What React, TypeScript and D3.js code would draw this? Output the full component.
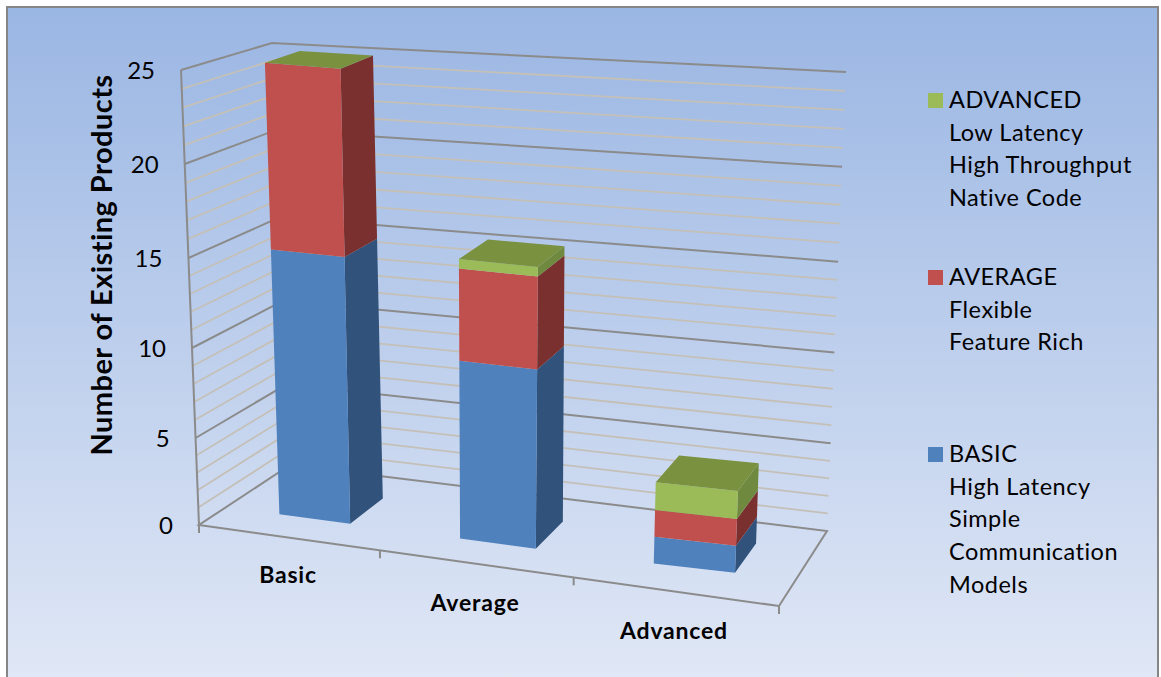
import React from 'react';
import * as d3 from 'd3';

const categories = ['Basic', 'Average', 'Advanced'];
const basicValues = [15.1, 10, 1.5];
const averageValues = [10.1, 5.1, 1.5];
const advancedValues = [0, 0.5, 1.55];
const valueTicks = [0, 5, 10, 15, 20, 25];
const minorTicks = d3.range(0, 26);

const legendBlocks = [
  { lines: ['ADVANCED', 'Low Latency', 'High Throughput', 'Native Code'], color: '#9BBB59', baseline: 108 },
  { lines: ['AVERAGE', 'Flexible', 'Feature Rich'], color: '#C0504D', baseline: 285 },
  { lines: ['BASIC', 'High Latency', 'Simple', 'Communication', 'Models'], color: '#4F81BD', baseline: 462 },
];

const seriesStyles = [
  { values: basicValues, front: '#4F81BD', side: '#30527B', top: '#3F6797' },
  { values: averageValues, front: '#C0504D', side: '#7A302E', top: '#9A403E' },
  { values: advancedValues, front: '#9BBB59', side: '#6F8A3F', top: '#7A9140' },
];

// Eight corners of the projected plot box: [u][v][w]
type Pt = [number, number];
const corners: Record<string, Pt> = {
  '000': [199, 525], '010': [181, 70], '001': [290, 465], '011': [272, 43],
  '100': [779, 606], '110': [801, 126], '101': [827, 531], '111': [846, 72],
};

const uScale = d3.scaleLinear().domain([0, 1, 2, 3]).range([0, 0.312, 0.646, 1]);
const vScale = d3.scaleLinear().domain(valueTicks).range([0, 87, 177, 267, 361, 455].map((d) => d / 455));
// small perspective correction of the bars' depth toward the right of the floor
const depthShift = d3.scaleLinear().domain([0, 2, 3]).range([0, 0, 0.05]);

function project(cat: number, value: number, w: number): Pt {
  const u = uScale(cat);
  const v = vScale(value);
  const out: Pt = [0, 0];
  for (const a of [0, 1]) for (const b of [0, 1]) for (const c of [0, 1]) {
    const k = (a ? u : 1 - u) * (b ? v : 1 - v) * (c ? w : 1 - w);
    const p = corners[`${a}${b}${c}`];
    out[0] += k * p[0];
    out[1] += k * p[1];
  }
  return out;
}
const barPoint = (cat: number, value: number, w: number) => project(cat, value, w + depthShift(cat));

const path = d3.line<Pt>();
const poly = (pts: Pt[]) => path(pts) + 'Z';

const MAJOR = '#8B8B8B';
const MINOR = '#C4C0B8';
const W0 = 0.3;
const W1 = 0.7;
const BAR = 0.4;
const fontFamily = 'Lato, Carlito, "Open Sans", sans-serif';

export default function App() {
  const bars = categories.map((_, i) => {
    const c0 = i + (1 - BAR) / 2;
    const c1 = i + (1 + BAR) / 2;
    let base = 0;
    const faces: React.ReactNode[] = [];
    seriesStyles.forEach((s, si) => {
      const top = base + s.values[i];
      if (s.values[i] > 0) {
        faces.push(
          <path key={`s${si}`} fill={s.side} d={poly([barPoint(c1, base, W0), barPoint(c1, base, W1), barPoint(c1, top, W1), barPoint(c1, top, W0)])} />,
          <path key={`f${si}`} fill={s.front} d={poly([barPoint(c0, base, W0), barPoint(c1, base, W0), barPoint(c1, top, W0), barPoint(c0, top, W0)])} />,
        );
      }
      base = top;
    });
    const last = seriesStyles[seriesStyles.length - 1];
    faces.push(
      <path key="top" fill={last.top} d={poly([barPoint(c0, base, W0), barPoint(c1, base, W0), barPoint(c1, base, W1), barPoint(c0, base, W1)])} />,
    );
    return <g key={i}>{faces}</g>;
  });

  const catLabelPos = [[288, 583], [475, 611], [674, 639]];

  return (
    <svg width={1161} height={677} viewBox="0 0 1161 677" style={{ position: 'fixed', left: 0, top: 0, display: 'block' }} fontFamily={fontFamily}>
      <defs>
        <linearGradient id="bg" x1="0" y1="0" x2="0" y2="1">
          <stop offset="0" stopColor="#9AB6E3" />
          <stop offset="1" stopColor="#E1E8F6" />
        </linearGradient>
      </defs>
      <rect width={1161} height={677} fill="#fff" />
      <rect x={7} y={7} width={1151} height={680} fill="url(#bg)" stroke="#868686" strokeWidth={2} />

      {/* minor gridlines */}
      {minorTicks.filter((t) => t % 5 !== 0).map((t) => (
        <path key={t} fill="none" stroke={MINOR} strokeWidth={1.8} d={path([project(0, t, 0), project(0, t, 1), project(3, t, 1)])!} />
      ))}
      {/* major gridlines */}
      {valueTicks.filter((t) => t > 0).map((t) => (
        <path key={t} fill="none" stroke={MAJOR} strokeWidth={2} d={path([project(0, t, 0), project(0, t, 1), project(3, t, 1)])!} />
      ))}
      {/* floor and value axis */}
      <path fill="none" stroke={MAJOR} strokeWidth={2} d={poly([project(0, 0, 0), project(3, 0, 0), project(3, 0, 1), project(0, 0, 1)])} />
      <path fill="none" stroke={MAJOR} strokeWidth={2} d={path([project(0, 0, 0), project(0, 25, 0)])!} />
      {d3.range(0, 4).map((i) => {
        const p = project(i, 0, 0);
        return <line key={i} x1={p[0]} x2={p[0]} y1={p[1]} y2={p[1] + 8} stroke={MAJOR} strokeWidth={2} />;
      })}

      {bars}

      {valueTicks.map((t) => {
        const p = project(0, t, 0);
        return (
          <text key={t} x={p[0] - 26} y={p[1] + 9} textAnchor="end" fontSize={24} fill="#000">{t}</text>
        );
      })}
      {categories.map((c, i) => (
        <text key={c} x={catLabelPos[i][0]} y={catLabelPos[i][1]} textAnchor="middle" fontSize={23} letterSpacing={0.8} fontWeight={700} fill="#000">{c}</text>
      ))}
      <text transform="translate(112,265) rotate(-90)" textAnchor="middle" fontSize={29} letterSpacing={0.45} fontWeight={700} fill="#000">Number of Existing Products</text>

      {legendBlocks.map((b) => (
        <g key={b.lines[0]}>
          <rect x={928} y={b.baseline - 15} width={15} height={15} fill={b.color} />
          {b.lines.map((l, i) => (
            <text key={l} x={949} y={b.baseline + i * 32.7} fontSize={23.5} letterSpacing={0.5} fill="#000">{l}</text>
          ))}
        </g>
      ))}
    </svg>
  );
}
